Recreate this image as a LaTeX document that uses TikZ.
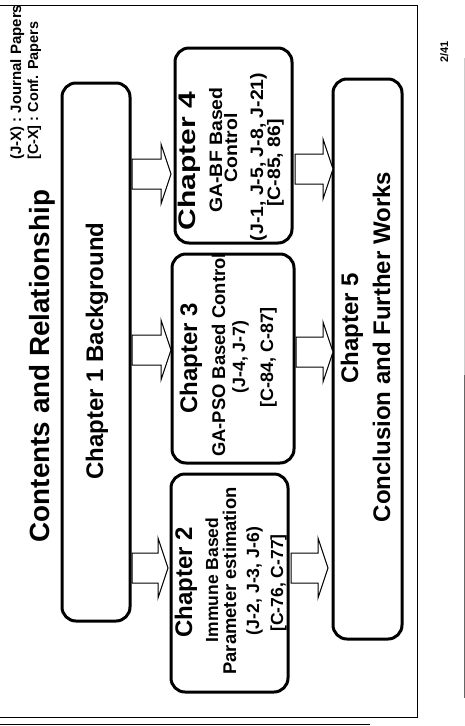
\documentclass[tikz,border=0pt]{standalone}
\usepackage{fontspec}
\setmainfont{Liberation Sans}
\usetikzlibrary{calc}
\newcommand\myfs[1]{\fontsize{#1}{#1}\selectfont}
\newcommand\blkarrow[2]{%
  \path #1 coordinate (ta) #2 coordinate (tb);
  \draw[blkarr] let \p1=(ta), \p2=(tb) in
    (\x1,\y1+15pt) -- (\x2-10pt,\y1+15pt) -- (\x2-10pt,\y1+30pt) -- (\x2,\y1)
    -- (\x2-10pt,\y1-30pt) -- (\x2-10pt,\y1-15pt) -- (\x1,\y1-15pt) -- cycle;}
\begin{document}
\begin{tikzpicture}[x=1pt,y=-1pt,
  chbox/.style={draw, line width=3pt, rounded corners=14pt, inner sep=0pt, outer sep=0pt},
  txt/.style={rotate=90, anchor=base, inner sep=0pt},
  blkarr/.style={draw, line width=1pt, fill=white, line join=miter},
  frameline/.style={line width=0.8pt},
]
\fill[white] (0,0) rectangle (465,726);
\useasboundingbox (0,0) rectangle (465,726);
% slide frame
\draw[frameline] (0,5) -- (417,5) -- (417,717) -- (0,717);
\draw[frameline] (0,724) -- (370,724);
\draw[gray!40, line width=0.8pt] (464,58) -- (464,375);
\draw[gray!80!black, line width=0.8pt] (464,375) -- (464,698);
% boxes
\node[chbox, minimum width=68pt, minimum height=538pt] (b1) at (96,352) {};
\node[chbox, minimum width=117pt, minimum height=195pt] (b4) at (233.5,145.5) {};
\node[chbox, minimum width=122pt, minimum height=209pt] (b3) at (233,358.5) {};
\node[chbox, minimum width=117pt, minimum height=218pt] (b2) at (229.5,583) {};
\node[chbox, minimum width=69pt, minimum height=560pt] (b5) at (367.5,359) {};
% title and legend
\node[txt, font=\bfseries\myfs{27.8}] (title) at (49,366) {Contents and Relationship};
\node[txt, anchor=base west, font=\bfseries\myfs{15}] (leg1) at (21,160) {(J-X) : Journal Papers};
\node[txt, anchor=base west, font=\bfseries\myfs{14.5}] (leg2) at (38,160) {[C-X] : Conf. Papers};
\node[txt, font=\bfseries\myfs{11}] (pg) at (448,52) {2/41};
% chapter 1
\node[txt, font=\bfseries\myfs{24}] (t1) at (103,351) {Chapter 1 Background};
% chapter 2
\node[txt, font=\bfseries\myfs{24}] (t2a) at (192,582) {Chapter 2};
\node[txt, font=\bfseries\myfs{17.5}] (t2b) at (218,580) {Immune Based};
\node[txt, font=\bfseries\myfs{18.4}] (t2c) at (236,581) {Parameter estimation};
\node[txt, font=\bfseries\myfs{17.7}] (t2d) at (259,581) {(J-2, J-3, J-6)};
\node[txt, font=\bfseries\myfs{17.5}] (t2e) at (283,583) {[C-76, C-77]};
% chapter 3
\node[txt, font=\bfseries\myfs{24}] (t3a) at (197,358) {Chapter 3};
\node[txt, font=\bfseries\myfs{18.4}] (t3b) at (225,355) {GA-PSO Based Control};
\node[txt, font=\bfseries\myfs{17.8}] (t3c) at (245,357) {(J-4, J-7)};
\node[txt, font=\bfseries\myfs{18}] (t3d) at (273,357) {[C-84, C-87]};
% chapter 4
\node[txt, font=\bfseries\myfs{24}] (t4a) at (195,161) {\scalebox{1.25}[1]{Chapter 4}};
\node[txt, font=\bfseries\myfs{18}] (t4b) at (222,150) {\scalebox{1.08}[1]{GA-BF Based}};
\node[txt, font=\bfseries\myfs{18}] (t4c) at (237,148) {\scalebox{1.08}[1]{Control}};
\node[txt, font=\bfseries\myfs{18}] (t4d) at (263,157) {\scalebox{1.08}[1]{(J-1, J-5, J-8, J-21)}};
\node[txt, font=\bfseries\myfs{18}] (t4e) at (280,163) {\scalebox{1.08}[1]{[C-85, 86]}};
% chapter 5
\node[txt, font=\bfseries\myfs{24}] (t5a) at (358,328) {Chapter 5};
\node[txt, font=\bfseries\myfs{24}] (t5b) at (390,347) {Conclusion and Further Works};
% arrow rows
\coordinate (r1) at (0,174);
\coordinate (r2) at (0,350);
\coordinate (r3) at (0,568);
\coordinate (r4) at (0,169);
\coordinate (r5) at (0,352);
\coordinate (r6) at (0,568);
\blkarrow{($(b1.east |- r1)+(2,0)$)}{($(b4.west |- r1)+(-4,0)$)}
\blkarrow{($(b1.east |- r2)+(2,0)$)}{($(b3.west |- r2)+(-1,0)$)}
\blkarrow{($(b1.east |- r3)+(2,0)$)}{($(b2.west |- r3)+(-3,0)$)}
\blkarrow{($(b4.east |- r4)+(3,0)$)}{($(b5.west |- r4)+(0,0)$)}
\blkarrow{($(b3.east |- r5)+(2,0)$)}{($(b5.west |- r5)+(0,0)$)}
\blkarrow{($(b2.east |- r6)+(3,0)$)}{($(b5.west |- r6)+(-5,0)$)}
\end{tikzpicture}
\end{document}
